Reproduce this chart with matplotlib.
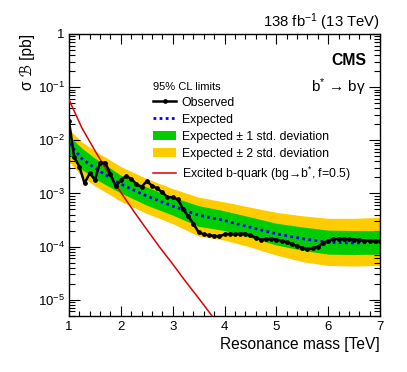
import matplotlib
matplotlib.use("Agg")
import matplotlib.pyplot as plt
import numpy as np
from matplotlib.lines import Line2D
from matplotlib.patches import Patch
from matplotlib.ticker import MultipleLocator, LogLocator, NullFormatter, FuncFormatter

plt.rcParams['font.family'] = ['Liberation Sans', 'DejaVu Sans']
plt.rcParams['mathtext.fontset'] = 'custom'
plt.rcParams['mathtext.rm'] = 'Liberation Sans'
plt.rcParams['mathtext.it'] = 'Liberation Sans:italic'
plt.rcParams['mathtext.bf'] = 'Liberation Sans:bold'

# ---- data ----
obs_mass = [1.0, 1.1, 1.2, 1.3, 1.4, 1.5, 1.6, 1.7, 1.8, 1.9, 2.0, 2.1, 2.2, 2.3, 2.4,
            2.5, 2.6, 2.7, 2.8, 2.9, 3.0, 3.1, 3.2, 3.3, 3.4, 3.5, 3.6, 3.7, 3.8, 3.9,
            4.0, 4.1, 4.2, 4.3, 4.4, 4.5, 4.6, 4.7, 4.8, 4.9, 5.0, 5.1, 5.2, 5.3, 5.4,
            5.5, 5.6, 5.7, 5.8, 5.9, 6.0, 6.1, 6.2, 6.3, 6.4, 6.5, 6.6, 6.7, 6.8, 6.9, 7.0]
obs_limit = [0.023, 0.0048, 0.0032, 0.00155, 0.0024, 0.0018, 0.0038, 0.0038, 0.0023, 0.00135,
             0.0018, 0.0021, 0.0019, 0.00148, 0.00132, 0.0017, 0.0014, 0.00124, 0.00105, 0.00085,
             0.00085, 0.00077, 0.00051, 0.00037, 0.00027, 0.000186, 0.00017, 0.000162, 0.00016, 0.000155,
             0.00017, 0.000174, 0.00017, 0.000175, 0.000174, 0.000162, 0.000148, 0.000135, 0.000138, 0.00014,
             0.000135, 0.000129, 0.00012, 0.000112, 0.000102, 0.000095, 0.000091, 0.000092, 0.0001, 0.000117,
             0.000129, 0.000137, 0.000139, 0.000139, 0.000137, 0.000135, 0.000133, 0.00013, 0.000128, 0.000127, 0.000127]

exp_mass = [1.0, 1.25, 1.5, 1.75, 2.0, 2.5, 3.0, 3.5, 4.0, 4.5, 5.0, 5.5, 6.0, 6.5, 7.0]
exp_limit = [0.0087, 0.0045, 0.0030, 0.0021, 0.0015, 0.00089, 0.00058, 0.00039, 0.00031,
             0.00023, 0.000174, 0.000141, 0.00012, 0.000117, 0.00012]
exp_plus2 = [0.016, 0.0093, 0.0063, 0.0045, 0.0032, 0.0019, 0.00123, 0.00085, 0.00069,
             0.00055, 0.00044, 0.00038, 0.00034, 0.00034, 0.000355]
exp_plus1 = [0.012, 0.0071, 0.0046, 0.0032, 0.0022, 0.00132, 0.00085, 0.00059, 0.00047,
             0.00036, 0.000275, 0.000234, 0.000204, 0.0002, 0.0002]
exp_minus1 = [0.0055, 0.0028, 0.0019, 0.00138, 0.00102, 0.0006, 0.00039, 0.00024, 0.0002,
              0.000148, 0.000107, 0.000085, 0.000072, 0.000071, 0.000072]
exp_minus2 = [0.0040, 0.0021, 0.00138, 0.001, 0.00071, 0.00042, 0.00027, 0.000158, 0.000132,
              0.000098, 0.000069, 0.000052, 0.000044, 0.000043, 0.000044]

theory_mass = [1.0, 1.25, 1.5, 1.75, 2.0, 2.25, 2.5, 2.75, 3.0, 3.25, 3.5, 3.75, 4.0]
theory_xsec = [0.058, 0.017, 0.0064, 0.0025, 0.00105, 0.00046, 0.00021, 0.000097,
               4.7e-5, 2.2e-5, 1.07e-5, 5.1e-6, 2.45e-6]

x_ticks = [1, 2, 3, 4, 5, 6, 7]

# ---- figure ----
fig = plt.figure(figsize=(4.07, 3.72), dpi=100)
ax = fig.add_axes([69/407, 1 - 315.7/372, (380-69)/407, (315.7-34)/372])

c_green = '#00cc00'
c_yellow = '#ffcc00'
c_red = '#dd0000'
c_blue = '#0000ff'
ax.fill_between(exp_mass, exp_minus2, exp_plus2, color=c_yellow, lw=0, zorder=1)
ax.fill_between(exp_mass, exp_minus1, exp_plus1, color=c_green, lw=0, zorder=2)
ax.plot(exp_mass, exp_limit, color=c_blue, lw=2, linestyle=(0, (1, 1.2)), zorder=3)
ax.plot(theory_mass, theory_xsec, color=c_red, lw=1.1, zorder=4)
ax.plot(obs_mass, obs_limit, color='black', lw=1.8, marker='o', markersize=2.4, zorder=5)

ax.set_yscale('log')
ax.set_xlim(1, 7)
ax.set_ylim(5e-6, 1)
ax.set_xticks(x_ticks)
ax.xaxis.set_minor_locator(MultipleLocator(0.2))
ax.yaxis.set_major_locator(LogLocator(base=10, numticks=10))
ax.yaxis.set_minor_locator(LogLocator(base=10, subs=np.arange(2, 10), numticks=20))
ax.yaxis.set_minor_formatter(NullFormatter())


def yfmt(v, pos):
    e = int(round(np.log10(v)))
    if e == 0:
        return '1'
    return r'$\mathdefault{10^{%d}}$' % e


ax.yaxis.set_major_formatter(FuncFormatter(yfmt))

ax.tick_params(which='both', direction='in', top=True, right=True, labelsize=9.5, width=0.8)
ax.tick_params(axis='x', which='major', length=7, pad=4)
ax.tick_params(axis='x', which='minor', length=3.5)
ax.tick_params(axis='y', which='major', length=8, pad=3)
ax.tick_params(axis='y', which='minor', length=4)
for s in ax.spines.values():
    s.set_linewidth(1.0)

ax.set_xlabel('Resonance mass [TeV]', fontsize=11.2, loc='right', labelpad=3)
ax.set_ylabel('σ ℬ [pb]', fontsize=11.2, loc='top', labelpad=2,
              family=['Liberation Sans', 'DejaVu Sans'])

fig.text(380/407, 1 - 27/372, r'138 fb$^{-1}$ (13 TeV)', ha='right', va='baseline', fontsize=10.7)
ax.text(0.955, 0.905, 'CMS', transform=ax.transAxes, ha='right', va='center',
        fontsize=11.3, fontweight='bold')
ax.text(0.955, 0.81, r'b$^{*}$ → bγ', transform=ax.transAxes,
        ha='right', va='center', fontsize=11)

handles = [
    Line2D([], [], color='black', lw=1.8, marker='o', markersize=2.4),
    Line2D([], [], color=c_blue, lw=2, linestyle=(0, (1, 1.2))),
    Patch(facecolor=c_green, edgecolor='none'),
    Patch(facecolor=c_yellow, edgecolor='none'),
    Line2D([], [], color=c_red, lw=1.1),
]
labels = ['Observed', 'Expected', 'Expected ± 1 std. deviation',
          'Expected ± 2 std. deviation',
          r'Excited b-quark (bg→b$^{*}$, f=0.5)']
leg = fig.legend(handles, labels, title='95% CL limits', loc='upper left',
                 bbox_to_anchor=(153/407, 1 - 82/372), frameon=False, fontsize=8.8,
                 title_fontsize=8.0, alignment='left', handlelength=1.9,
                 handletextpad=0.45, labelspacing=0.4, borderpad=0, borderaxespad=0,
                 handleheight=0.8)

fig.savefig('out.png', dpi=100)
